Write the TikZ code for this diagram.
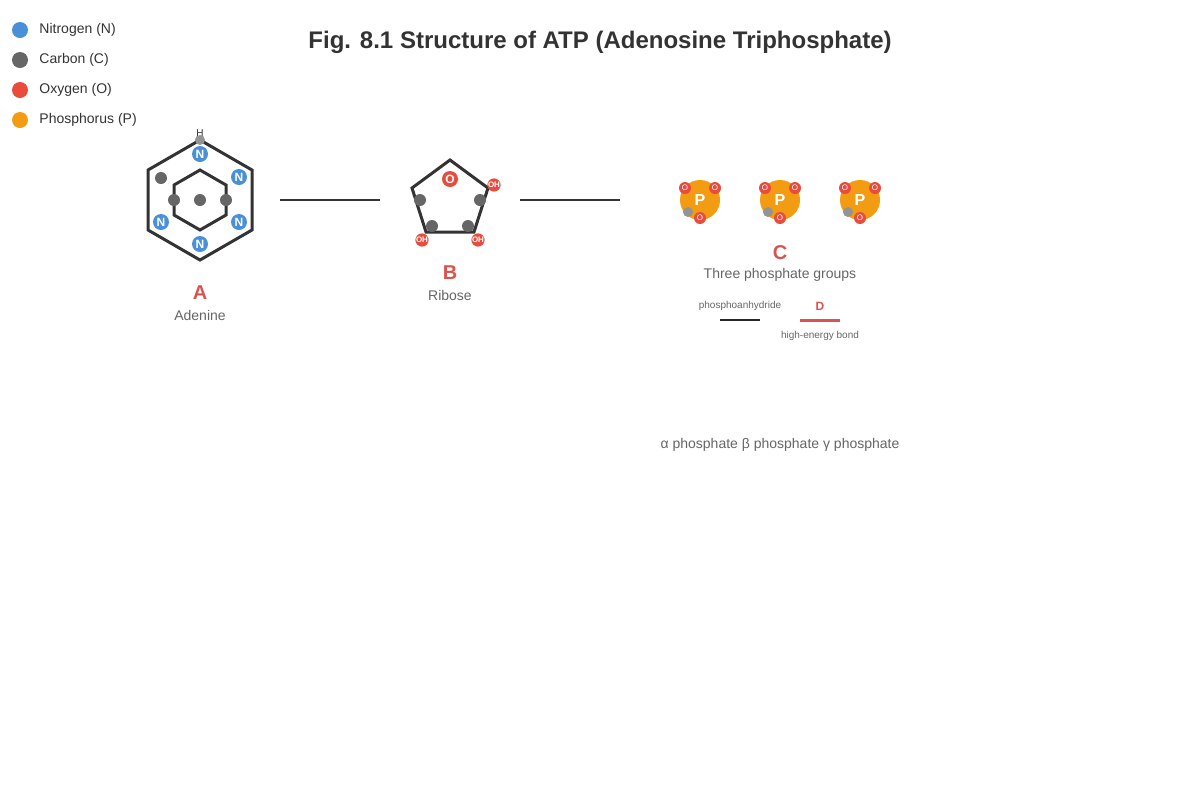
\documentclass[tikz,border=0pt]{standalone}
\usepackage{fontspec}
\setmainfont{Liberation Sans}
\usetikzlibrary{positioning}
\definecolor{nblue}{HTML}{4A90D9}
\definecolor{cgray}{HTML}{666666}
\definecolor{ored}{HTML}{E74C3C}
\definecolor{porange}{HTML}{F39C12}
\definecolor{lblred}{HTML}{D9534F}
\definecolor{txt}{HTML}{333333}
\begin{document}
\begin{tikzpicture}[x=0.5pt, y=-0.5pt, thick]
	\tikzstyle{atom} = [circle, inner sep=0pt, text=white, font=\bfseries\fontsize{6}{6}\selectfont]
	\tikzstyle{nitro} = [atom, fill=nblue, minimum size=8pt]
	\tikzstyle{carb} = [atom, fill=cgray, minimum size=6pt]
	\tikzstyle{oxy} = [atom, fill=ored, minimum size=8pt]
	\tikzstyle{oh} = [atom, fill=ored, minimum size=6pt, font=\bfseries\fontsize{4}{4}\selectfont]
	\tikzstyle{phos} = [atom, fill=porange, minimum size=20pt, font=\bfseries\fontsize{8}{8}\selectfont]
	\tikzstyle{ring} = [draw=txt, line width=1.5pt]
	\tikzstyle{bond} = [draw=txt, line width=1pt]
	\tikzstyle{lbl} = [text=lblred, font=\bfseries\fontsize{10}{10}\selectfont]
	\tikzstyle{captxt} = [text=cgray, font=\fontsize{7}{7}\selectfont]
	\tikzstyle{small} = [text=cgray, font=\fontsize{5}{5}\selectfont]
	\tikzstyle{legtxt} = [right, text=txt, font=\fontsize{7}{7}\selectfont]
	\useasboundingbox (0,0) rectangle (1200,800);
	\fill[white] (0,0) rectangle (1200,800);
	% title
	\node[text=txt, font=\bfseries\fontsize{12}{12}\selectfont] (title) at (600,42) {Fig. 8.1 Structure of ATP (Adenosine Triphosphate)};
	% legend
	\foreach \y/\c/\t in {30/nblue/Nitrogen (N), 60/cgray/Carbon (C), 90/ored/Oxygen (O), 120/porange/Phosphorus (P)} {
		\fill[\c] (20,\y) circle (8);
		\node[legtxt] at (32,\y) {\t};
	}
	% adenine
	\draw[ring] (200,140) -- (252,170) -- (252,230) -- (200,260) -- (148,230) -- (148,170) -- cycle;
	\draw[ring] (200,170) -- (226,185) -- (226,215) -- (200,230) -- (174,215) -- (174,185) -- cycle;
	\node[carb] (c1) at (200,200) {};
	\node[carb] (c2) at (174,200) {};
	\node[carb] (c3) at (226,200) {};
	\node[carb] (c4) at (161,178) {};
	\node[atom, fill=cgray!70, minimum size=5pt] (h) at (200,140) {};
	\node[text=txt, font=\fontsize{5}{5}\selectfont] at (200,133) {H};
	\foreach \p [count=\i] in {(200,154),(239,177),(239,222),(161,222),(200,244)}
		\node[nitro] (n\i) at \p {N};
	\node[lbl] (lblA) at (200,293) {A};
	\node[captxt] (capA) at (200,315) {Adenine};
	% ribose
	\draw[ring] (450,160) -- (488,188) -- (474,232) -- (426,232) -- (412,188) -- cycle;
	\node[oxy] (o1) at (450,179) {O};
	\foreach \p [count=\i] in {(420,200),(480,200),(432,226),(468,226)}
		\node[carb] (rc\i) at \p {};
	\foreach \p [count=\i] in {(494,185),(422,240),(478,240)}
		\node[oh] (oh\i) at \p {OH};
	\node[lbl] (lblB) at (450,273) {B};
	\node[captxt] (capB) at (450,295) {Ribose};
	% links
	\coordinate (l1a) at (280,200); \coordinate (l1b) at (380,200);
	\coordinate (l2a) at (520,200); \coordinate (l2b) at (620,200);
	\draw[bond] (l1a) -- (l1b);
	\draw[bond] (l2a) -- (l2b);
	% phosphates
	\foreach \x [count=\i] in {700,780,860} {
		\node[phos] (p\i) at (\x,200) {P};
		\node[atom, fill=cgray!70, minimum size=5pt] at (\x-12,212) {};
		\foreach \dx/\dy in {-15/-12, 15/-12, 0/18}
			\node[oh, font=\fontsize{4}{4}\selectfont] at (\x+\dx,200+\dy) {O};
	}
	\node[lbl] (lblC) at (780,253) {C};
	\node[captxt] (capC) at (780,275) {Three phosphate groups};
	\node[small] (anh) at (740,306) {phosphoanhydride};
	\coordinate (k1) at (720,320); \coordinate (k2) at (760,320);
	\draw[line width=1pt, black!85] (k1) -- (k2);
	\node[text=lblred, font=\bfseries\fontsize{6}{6}\selectfont] (lblD) at (820,306) {D};
	\coordinate (r1) at (800,320); \coordinate (r2) at (840,320);
	\draw[line width=1.5pt, lblred] (r1) -- (r2);
	\node[small] (heb) at (820,336) {high-energy bond};
	\node[captxt] (greek) at (780,445) {α phosphate β phosphate γ phosphate};
\end{tikzpicture}
\end{document}
